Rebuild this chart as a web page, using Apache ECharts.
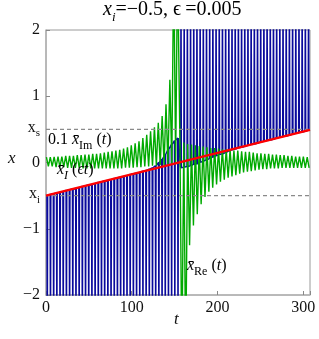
<!DOCTYPE html>
<html><head><meta charset="utf-8">
<script src="https://cdn.jsdelivr.net/npm/echarts/dist/echarts.min.js"></script>
<style>html,body{margin:0;padding:0;background:#fff}#c{width:319px;height:339px}</style>
</head><body><div id="c"></div>
<script>
// ---- data ----
const xTickVals = [0, 100, 200, 300];
const yTickVals = [-2, -1, 0, 1, 2];
const yTickText = ['\u22122', '\u22121', '0', '1', '2'];
const yRefVals = [0.5, -0.5];
const yRefText = ['s', 'i'];           // subscripts of x_s, x_i

// red line  x_I(εt)
const redT = [0, 308];
const redY = [-0.5, 0.492];

// blue Re: spikes down (before crossover) and up (after)
const preSpikeT = [1.5,5.22,8.94,12.66,16.38,20.1,23.82,27.54,31.26,34.98,38.7,42.42,46.14,49.86,53.58,57.3,61.02,64.74,68.46,72.18,75.9,79.62,83.34,87.06,90.78,94.5,98.22,101.94,105.66,109.38,113.1,116.82,120.54,124.26,127.98,131.7,135.42,139.14,142.86,146.58,150.3,154.02];
const preTop = [-0.5,-0.48,-0.47,-0.46,-0.45,-0.44,-0.42,-0.41,-0.4,-0.39,-0.38,-0.36,-0.35,-0.34,-0.33,-0.32,-0.3,-0.29,-0.28,-0.27,-0.26,-0.24,-0.23,-0.22,-0.21,-0.2,-0.18,-0.17,-0.16,-0.15,-0.13,-0.12,-0.1,-0.08,-0.05,0.0,0.05,0.12,0.2,0.27,0.33,0.37];
const preBottom = -3;
const postSpikeT = [157.5,161.22,164.94,168.66,172.38,176.1,179.82,183.54,187.26,190.98,194.7,198.42,202.14,205.86,209.58,213.3,217.02,220.74,224.46,228.18,231.9,235.62,239.34,243.06,246.78,250.5,254.22,257.94,261.66,265.38,269.1,272.82,276.54,280.26,283.98,287.7,291.42,295.14,298.86,302.58,306.3];
const postBottom = [-0.08,-0.07,-0.06,-0.05,-0.03,-0.02,0.0,0.02,0.04,0.06,0.08,0.1,0.12,0.13,0.15,0.17,0.19,0.2,0.22,0.23,0.24,0.26,0.27,0.28,0.29,0.31,0.32,0.33,0.34,0.35,0.37,0.38,0.39,0.4,0.41,0.43,0.44,0.45,0.46,0.47,0.49];
const postTop = 3;

// green 0.1 Im: zigzag extremes
const greenT = [0.5,2.75,5,7.25,9.5,11.75,14,16.25,18.5,20.75,23,25.25,27.5,29.75,32,34.25,36.5,38.75,41,43.25,45.5,47.75,50,52.25,54.5,56.75,59,61.25,63.5,65.75,68,70.25,72.5,74.75,77,79.25,81.5,83.75,86,88.25,90.5,92.75,95,97.25,99.5,101.75,104,106.25,108.5,110.75,113,115.25,117.5,119.75,122,124.25,126.5,128.75,131,133.25,135.5,137.75,140,142.25,144.5,146.75,149,151.25,153.5,156.25,158.5,160.75,163,165.25,167.5,169.75,172,174.25,176.5,178.75,181,183.25,185.5,187.75,190,192.25,194.5,196.75,199,201.25,203.5,205.75,208,210.25,212.5,214.75,217,219.25,221.5,223.75,226,228.25,230.5,232.75,235,237.25,239.5,241.75,244,246.25,248.5,250.75,253,255.25,257.5,259.75,262,264.25,266.5,268.75,271,273.25,275.5,277.75,280,282.25,284.5,286.75,289,291.25,293.5,295.75,298,300.25,302.5,304.75,307];
const greenY = [0.08,-0.06,0.08,-0.06,0.085,-0.07,0.09,-0.07,0.09,-0.07,0.1,-0.08,0.1,-0.08,0.1,-0.08,0.11,-0.08,0.11,-0.09,0.12,-0.09,0.12,-0.09,0.13,-0.09,0.13,-0.09,0.14,-0.09,0.15,-0.09,0.16,-0.09,0.17,-0.09,0.18,-0.09,0.19,-0.09,0.21,-0.08,0.23,-0.08,0.26,-0.08,0.29,-0.07,0.32,-0.07,0.37,-0.06,0.42,-0.06,0.47,-0.05,0.53,-0.05,0.6,-0.04,0.7,-0.04,0.88,-0.03,1.25,-0.02,3,0.0,3,0.3,-3,0.3,-3,0.28,-1.25,0.27,-0.95,0.26,-0.78,0.25,-0.63,0.24,-0.52,0.23,-0.44,0.22,-0.38,0.22,-0.33,0.21,-0.29,0.2,-0.26,0.2,-0.23,0.19,-0.21,0.18,-0.19,0.18,-0.17,0.17,-0.15,0.16,-0.14,0.16,-0.13,0.15,-0.12,0.14,-0.11,0.14,-0.1,0.13,-0.1,0.13,-0.09,0.12,-0.09,0.12,-0.09,0.11,-0.08,0.11,-0.08,0.1,-0.08,0.1,-0.08,0.09,-0.08,0.09,-0.08,0.09,-0.08,0.08,-0.08];

// ---- build ----
const W = 0.45;
const blue = [];
preSpikeT.forEach((t, i) => { blue.push([t - W, preTop[i]], [t, preBottom], [t + W, preTop[i]]); });
postSpikeT.forEach((t, i) => { blue.push([t - W, postBottom[i]], [t, postTop], [t + W, postBottom[i]]); });
const green = greenT.map((t, i) => [t, greenY[i]]);
const red = redT.map((t, i) => [t, redY[i]]);
const refLine = v => [[0, v], [308, v]];

const SERIF = '"Liberation Serif","DejaVu Serif",serif';
const chart = echarts.init(document.getElementById('c'), null, {renderer: 'canvas'});
const mainTok = {fontFamily: SERIF, fontSize: 16, color: '#111', verticalAlign: 'bottom', padding: [0, 0, 4, 0]};
const itTok = Object.assign({}, mainTok, {fontStyle: 'italic'});
const subTok = {fontFamily: SERIF, fontSize: 12, color: '#111', verticalAlign: 'bottom'};
const subIt = Object.assign({}, subTok, {fontStyle: 'italic'});

chart.setOption({
  animation: false,
  grid: {left: 46, right: 9, top: 30, bottom: 44, show: true, borderColor: '#9a9a9a', borderWidth: 1},
  xAxis: {
    type: 'value', min: 0, max: 308, interval: 100,
    axisLine: {show: true, onZero: false, lineStyle: {color: '#b4b4b4', width: 1.6}},
    axisTick: {show: true, inside: true, length: 4, lineStyle: {color: '#888'}},
    splitLine: {show: false},
    axisLabel: {fontFamily: SERIF, fontSize: 16, color: '#111', margin: 5,
      formatter: v => xTickVals.indexOf(v) >= 0 ? String(v) : ''}
  },
  yAxis: [{
    type: 'value', min: -2, max: 2, interval: 1,
    axisLine: {show: true, onZero: false, lineStyle: {color: '#b4b4b4', width: 1.6}},
    axisTick: {show: true, inside: true, length: 4, lineStyle: {color: '#888'}},
    splitLine: {show: false},
    axisLabel: {fontFamily: SERIF, fontSize: 16, color: '#111', margin: 6,
      formatter: v => { const k = yTickVals.indexOf(v); return k >= 0 ? yTickText[k] : ''; }}
  }, {
    type: 'value', min: -2, max: 2, interval: 0.5, position: 'left', offset: 0,
    axisLine: {show: false}, axisTick: {show: false}, splitLine: {show: false},
    axisLabel: {margin: 6,
      formatter: v => { const k = yRefVals.indexOf(v); return k >= 0 ? '{a|x}{b|' + yRefText[k] + '}' : ''; },
      rich: {a: {fontFamily: SERIF, fontSize: 16, color: '#111', verticalAlign: 'bottom', padding: [0,0,3,0]},
             b: {fontFamily: SERIF, fontSize: 11, color: '#111', verticalAlign: 'bottom'}}}
  }],
  series: [
    {type: 'line', data: blue, showSymbol: false, symbol: 'none', clip: true,
     lineStyle: {color: '#0a0a9c', width: 1.4}, z: 2},
    {type: 'line', data: green, showSymbol: false, symbol: 'none', clip: true,
     lineStyle: {color: '#00aa00', width: 1.4}, z: 3},
    {type: 'line', data: refLine(yRefVals[0]), showSymbol: false, symbol: 'none',
     lineStyle: {color: '#8a8a8a', width: 1.2, type: [4, 3]}, z: 4},
    {type: 'line', data: refLine(yRefVals[1]), showSymbol: false, symbol: 'none',
     lineStyle: {color: '#8a8a8a', width: 1.2, type: [4, 3]}, z: 4},
    {type: 'line', data: red, showSymbol: false, symbol: 'none',
     lineStyle: {color: '#ff0000', width: 2.4}, z: 5}
  ],
  graphic: [
    {type: 'text', left: 103, top: 0, z: 10, style: {
      text: '{i|x}{s|i}{n|=\u22120.5, \u03f5\u2009=0.005}',
      rich: {i: Object.assign({}, itTok, {fontSize: 20}), n: Object.assign({}, mainTok, {fontSize: 20}), s: Object.assign({}, subIt, {fontSize: 13})}}},
    {type: 'text', left: 8, top: 150, z: 10, style: {text: 'x', font: 'italic 17px ' + SERIF, fill: '#111'}},
    {type: 'text', left: 174, top: 311, z: 10, style: {text: 't', font: 'italic 17px ' + SERIF, fill: '#111'}},
    {type: 'text', left: 48, top: 132, z: 10, style: {
      text: '{n|0.1 }{i|x\u0304}{s|Im}{n| (}{i|t}{n|)}', rich: {n: mainTok, i: itTok, s: subTok}}},
    {type: 'text', left: 57, top: 162, z: 10, style: {
      text: '{i|x\u0304}{s|I}{n| (}{i|\u03f5t}{n|)}', rich: {n: mainTok, i: itTok, s: subIt}}},
    {type: 'text', left: 187, top: 258, z: 10, style: {
      text: '{i|x\u0304}{s|Re}{n| (}{i|t}{n|)}', rich: {n: mainTok, i: itTok, s: subTok}}}
  ]
});
</script></body></html>
